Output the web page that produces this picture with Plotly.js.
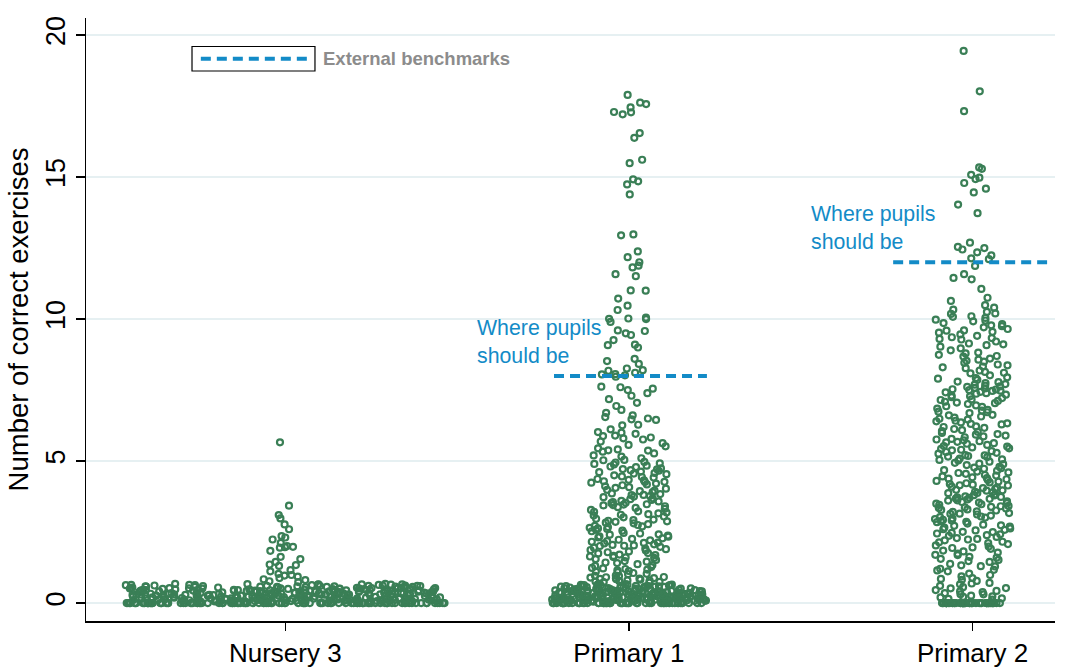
<!DOCTYPE html>
<html>
<head>
<meta charset="utf-8">
<script src="https://cdn.plot.ly/plotly-3.0.1.min.js"></script>
<style>
  html, body { margin: 0; padding: 0; background: #ffffff; }
  #chart { width: 1067px; height: 669px; }
</style>
</head>
<body>
<div id="chart"></div>
<script>
// ---- data -------------------------------------------------------------
const categories = ['Nursery 3', 'Primary 1', 'Primary 2'];

// Number of correct exercises per pupil, by grade
const nursery3 = [
  0,0,0,0,0,0,0,0,0,0, 0,0,0,0,0,0,0,0,0,0, 0,0,0,0,0,0,0,0,0,0,
  0,0,0,0,0,0,0,0,0,0, 0,0,0,0,0,0,0,0,0,0, 0,0,0,0,0,0,0,0,0,0,
  0,0,0,0,0,0,0,0,0,0, 0,0,0,0,0,0,0,0,0,0, 0,0,0,0,0,0,0,0,0,0,
  0,0,0,0,0,0,0,0,0,0, 0,0,0,0,0,0,0,0,0,0,
  0.05,0.11,0.08,0.19,0.14,0.23,0.07,0.31,0.12,0.26,
  0.09,0.17,0.36,0.04,0.21,0.13,0.42,0.28,0.06,0.16,
  0.33,0.1,0.24,0.47,0.15,0.08,0.38,0.2,0.12,0.29,
  0.52,0.05,0.18,0.35,0.09,0.25,0.44,0.14,0.3,0.11,
  0.57,0.22,0.07,0.39,0.17,0.27,0.13,0.49,0.06,0.34,
  0.2,0.61,0.1,0.26,0.41,0.15,0.32,0.08,0.46,0.19,
  0.23,0.54,0.12,0.37,0.05,0.28,0.16,0.43,0.09,0.65,
  0.21,0.31,0.14,0.5,0.07,0.24,0.4,0.18,0.59,0.11,
  0.27,0.35,0.13,0.45,0.06,0.22,0.56,0.17,0.3,0.1,
  0.38,0.25,0.68,0.15,0.48,0.08,0.33,0.2,0.42,0.12,
  0.29,0.63,0.16,0.36,0.05,0.26,0.51,0.19,0.39,0.09,
  0.23,0.44,0.14,0.58,0.32,0.07,0.27,0.47,0.18,0.11,
  0.35,0.21,0.62,0.13,0.4,0.28,0.06,0.53,0.24,0.16,
  0.31,0.1,0.45,0.19,0.37,0.66,0.12,0.25,0.5,0.08,
  0.22,0.34,0.15,0.55,0.29,0.04,0.41,0.18,0.6,0.27,
  0.13,0.36,0.2,0.48,0.09,0.3,0.64,0.17,0.43,0.24,
  0.11,0.33,0.57,0.14,0.26,0.39,0.07,0.52,0.21,0.46,
  0.31,0.44,0.52,0.36,0.61,0.48,0.27,0.57,0.4,0.66,
  0.34,0.5,0.43,0.59,0.29,0.55,0.38,0.63,0.46,0.32,
  0.53,0.41,0.67,0.35,0.58,0.47,0.3,0.62,0.39,0.54,
  0.45,0.28,0.6,0.37,0.51,0.42,0.64,0.33,0.56,0.49,
  0.26,0.47,0.61,0.35,0.53,0.4,0.65,0.3,0.58,0.44,
  0.37,0.55,0.29,0.63,0.42,0.5,0.33,0.59,0.46,0.68,
  0.38,0.52,0.31,0.6,0.45,0.27,0.57,0.41,0.64,0.36,
  0.49,0.34,0.62,0.43,0.54,0.3,0.66,0.39,0.51,0.47,
  0.74,0.77,0.81,0.84,0.88,0.93,0.97,0.99,1.03,1.12,
  1.16,1.31,1.34,1.36,1.45,1.55,1.63,1.84,1.95,1.97,
  1.98,2.01,2.12,2.24,2.31,2.36,2.6,2.77,2.98,3.1,3.43,5.66
];

const primary1 = [
  0,0,0,0,0,0,0,0,0,0, 0,0,0,0,0,0,0,0,0,0, 0,0,0,0,0,0,0,0,0,0,
  0,0,0,0,0,0,0,0,0,0, 0,0,0,0,0,0,0,0,0,0, 0,0,0,0,0,0,0,0,0,0,
  0.06,0.14,0.09,0.22,0.31,0.11,0.18,0.04,0.27,0.15,
  0.38,0.08,0.2,0.12,0.33,0.25,0.05,0.44,0.17,0.1,
  0.29,0.13,0.49,0.21,0.07,0.36,0.16,0.26,0.54,0.11,
  0.19,0.4,0.09,0.3,0.14,0.23,0.58,0.06,0.35,0.18,
  0.12,0.46,0.24,0.08,0.32,0.17,0.61,0.13,0.28,0.2,
  0.42,0.1,0.37,0.15,0.52,0.22,0.07,0.3,0.19,0.65,
  0.26,0.12,0.39,0.16,0.47,0.09,0.34,0.21,0.56,0.14,
  0.27,0.05,0.43,0.18,0.31,0.11,0.5,0.24,0.63,0.16,
  0.36,0.08,0.22,0.45,0.13,0.29,0.59,0.19,0.41,0.1,
  0.25,0.53,0.15,0.33,0.67,0.12,0.38,0.2,0.48,0.07,
  0.28,0.17,0.57,0.23,0.35,0.14,0.44,0.09,0.62,0.3,
  0.18,0.4,0.26,0.51,0.11,0.34,0.21,0.68,0.16,0.46,
  0.13,0.32,0.55,0.24,0.42,0.06,0.37,0.6,0.2,0.27,
  0.33,0.47,0.58,0.25,0.41,0.63,0.36,0.52,0.29,0.45,
  0.6,0.38,0.22,0.55,0.43,0.31,0.66,0.49,0.27,0.57,
  0.4,0.35,0.61,0.24,0.5,0.44,0.3,0.64,0.37,0.53,
  0.46,0.28,0.59,0.42,0.34,0.62,0.48,0.21,0.56,0.39,
  0.32,0.51,0.65,0.26,0.45,0.6,0.37,0.54,0.43,0.3,
  0.72,0.75,0.79,0.8,0.84,0.86,0.87,0.91,0.95,0.97,0.74,0.78,0.85,0.9,0.96,
  0.76,0.83,0.92,0.88,
  1.03,1.09,1.11,1.15,1.2,1.24,1.27,1.34,1.37,1.41,1.46,1.48,1.55,1.59,1.62,
  1.66,1.71,1.75,1.79,1.82,1.87,1.9,1.95,1.98,1.06,1.22,1.43,1.61,1.76,1.92,
  1.13,1.31,1.52,1.69,1.85,1.02,1.18,1.64,
  2.01,2.03,2.05,2.1,2.13,2.16,2.21,2.23,2.28,2.31,2.35,2.41,2.45,2.47,2.53,2.58,
  2.61,2.65,2.7,2.75,2.78,2.83,2.86,2.9,2.94,2.97,2.07,2.18,2.42,2.63,2.88,2.92,
  2.12,2.26,2.38,2.55,2.68,2.81,2.02,2.34,2.72,
  3.02,3.05,3.11,3.16,3.19,3.23,3.28,3.32,3.35,3.41,3.44,3.47,3.53,3.56,
  3.6,3.66,3.69,3.73,3.77,3.81,3.86,3.91,3.94,3.99,3.45,3.48,3.8,3.84,
  3.08,3.21,3.38,3.52,3.63,3.75,3.96,3.13,3.58,
  4.03,4.08,4.11,4.15,4.21,4.26,4.29,4.34,4.37,4.42,4.46,4.5,4.54,
  4.58,4.63,4.66,4.71,4.74,4.79,4.84,4.88,4.92,4.97,4.32,4.72,4.68,
  4.06,4.18,4.27,4.44,4.56,4.61,4.81,4.95,4.24,4.9,
  5.03,5.04,5.1,5.16,5.2,5.27,5.33,5.37,5.41,5.45,5.52,5.57,5.63,5.69,5.76,
  5.8,5.83,5.88,5.9,5.96,5.38,
  6.0,6.02,6.12,6.26,6.28,6.45,6.47,6.5,6.55,6.61,6.7,6.8,6.94,
  7.05,7.18,7.3,7.39,7.5,7.55,7.6,7.62,7.97,
  8.02,8.05,8.06,8.11,8.18,8.2,8.26,8.42,8.52,8.6,9.0,9.08,9.1,9.26,9.44,
  9.5,9.58,9.6,9.9,10.0,10.01,10.02,10.05,10.32,10.47,10.72,11.0,11.01,
  11.51,11.58,11.82,11.88,12.0,12.18,12.38,12.95,12.98,14.39,14.74,14.85,
  14.92,15.49,15.61,16.38,16.55,17.21,17.28,17.29,17.45,17.57,17.62,17.89
];

const primary2 = [
  0,0,0,0,0,0,0,0,0,0, 0,0,0,0,0,0,0,0,0,0, 0,0,0,0,0,0,0,0,0,0,
  0,0,0,0,0,0,0,0,0,0, 0,0,0,0,0,0,0,0,0,0,
  0.12,0.17,0.2,0.24,0.26,0.31,0.35,0.39,0.43,0.46,0.52,0.56,0.61,0.66,
  0.71,0.78,0.82,0.88,0.94,0.99,0.22,0.41,0.53,0.69,0.85,0.31,0.15,
  1.04,1.12,1.17,1.21,1.29,1.33,1.38,1.45,1.52,1.56,1.63,1.69,1.74,1.78,
  1.85,1.91,1.94,1.99,1.3,1.7,1.15,1.48,1.82,1.6,1.96,
  2.03,2.08,2.11,2.16,2.21,2.26,2.29,2.33,2.39,2.42,2.47,2.51,2.56,2.6,
  2.63,2.69,2.72,2.76,2.8,2.85,2.88,2.91,2.96,2.98,2.5,2.86,
  2.14,2.37,2.58,2.74,2.93,2.24,2.45,2.66,
  3.01,3.05,3.08,3.12,3.15,3.17,3.21,3.23,3.28,3.3,3.33,3.37,3.39,3.42,
  3.46,3.48,3.52,3.56,3.58,3.61,3.65,3.67,3.71,3.74,3.76,3.8,3.83,3.87,
  3.9,3.92,3.96,3.99,3.35,3.5,3.62,3.72,
  3.03,3.14,3.26,3.41,3.54,3.68,3.79,3.88,3.97,
  4.02,4.07,4.1,4.14,4.17,4.22,4.25,4.3,4.33,4.38,4.43,4.46,4.51,4.55,
  4.6,4.63,4.68,4.73,4.77,4.8,4.86,4.91,4.94,4.98,4.15,4.4,
  4.05,4.19,4.28,4.36,4.49,4.58,4.66,4.75,4.89,
  5.02,5.06,5.09,5.14,5.18,5.21,5.26,5.32,5.35,5.4,5.43,5.48,5.53,5.57,
  5.61,5.66,5.7,5.73,5.78,5.84,5.87,5.9,5.95,5.99,5.2,5.45,5.68,
  5.04,5.16,5.29,5.38,5.51,5.63,5.76,5.93,
  6.03,6.09,6.13,6.17,6.22,6.29,6.33,6.36,6.42,6.49,6.53,6.57,6.63,6.69,
  6.74,6.78,6.85,6.91,6.96,6.4,6.72,6.06,6.2,6.31,6.46,6.61,6.8,6.93,
  7.01,7.06,7.09,7.12,7.17,7.22,7.25,7.31,7.34,7.37,7.42,7.47,7.5,7.53,
  7.58,7.61,7.66,7.71,7.75,7.8,7.86,7.9,7.95,7.48,7.52,7.56,
  7.04,7.15,7.28,7.39,7.44,7.63,7.69,7.78,7.92,
  8.02,8.09,8.14,8.19,8.27,8.33,8.4,8.46,8.53,8.61,8.68,8.74,8.82,8.9,
  8.97,8.3,8.5,8.7,8.11,8.37,8.57,8.79,
  9.03,9.08,9.14,9.21,9.28,9.33,9.41,9.46,9.52,9.59,9.65,9.71,9.78,9.86,
  9.92,9.98,9.3,9.6,9.75,9.11,9.36,9.55,9.82,9.95,
  10.04,10.1,10.18,10.25,10.33,10.4,10.49,10.64,10.75,10.2,10.08,
  11.06,11.4,11.45,11.58,11.87,12.11,12.14,12.24,12.35,12.45,12.5,12.54,12.69,
  13.73,14.03,14.46,14.59,14.79,14.93,14.98,15.08,15.29,15.34,
  17.32,18.02,19.44
];

const seriesValues = [nursery3, primary1, primary2];

// Benchmark for where pupils should be (none for Nursery 3)
const benchmarks = [null, 8, 12];
const benchmarkLabel = 'Where pupils<br>should be';
const legendLabel = 'External benchmarks';
const yTickValues = [0, 5, 10, 15, 20];
const yAxisTitle = 'Number of correct exercises';

// ---- styling ----------------------------------------------------------
const GREEN = '#3a7f56';
const BLUE = '#138bc7';
const FONT = 'Liberation Sans, Arial, Helvetica, sans-serif';

// Each strip is split into a wide base band (values up to floorMax)
// and a narrower column above it; widths are in category units.
const stripStyle = [
  { floorMax: 0.7,  floorWidth: 0.93, upperWidth: 0.15 },
  { floorMax: 0.7,  floorWidth: 0.45, upperWidth: 0.23 },
  { floorMax: 0.05, floorWidth: 0.18, upperWidth: 0.22 }
];

// Benchmark segment extent and label offset, in category units
const benchStyle = [
  null,
  { left: -0.218, right: 0.227, labelX: -0.447 },
  { left: -0.231, right: 0.217, labelX: -0.476 }
];

function stripTrace(category, values, width) {
  return {
    type: 'box',
    x0: category,
    y: values,
    width: width,
    boxpoints: 'all',
    jitter: 1,
    pointpos: 0,
    fillcolor: 'rgba(0,0,0,0)',
    line: { width: 0, color: 'rgba(0,0,0,0)' },
    whiskerwidth: 0,
    hoveron: 'points',
    marker: {
      symbol: 'circle-open',
      size: 6,
      color: GREEN,
      line: { width: 2.2 }
    },
    showlegend: false,
    name: category
  };
}

const traces = [];
categories.forEach((cat, i) => {
  const s = stripStyle[i];
  const vals = seriesValues[i];
  traces.push(stripTrace(cat, vals.filter(v => v <= s.floorMax), s.floorWidth));
  traces.push(stripTrace(cat, vals.filter(v => v > s.floorMax), s.upperWidth));
});

const shapes = [];
const annotations = [];
benchmarks.forEach((b, i) => {
  if (b === null) return;
  const st = benchStyle[i];
  shapes.push({
    type: 'line', xref: 'x', yref: 'y',
    x0: i + st.left, x1: i + st.right, y0: b, y1: b,
    line: { color: BLUE, width: 4, dash: '10px,6px' }
  });
  annotations.push({
    xref: 'x', yref: 'y', x: i + st.labelX, y: b,
    xanchor: 'left', yanchor: 'bottom', align: 'left',
    yshift: 6, showarrow: false,
    text: benchmarkLabel,
    font: { family: FONT, size: 21.3, color: BLUE }
  });
});

// Legend key: framed dashed sample plus label
shapes.push({
  type: 'rect', xref: 'paper', yref: 'paper',
  x0: 0.1094, x1: 0.2363, y0: 0.9121, y1: 0.9527,
  line: { color: '#000000', width: 1.2 }, fillcolor: 'rgba(0,0,0,0)'
});
shapes.push({
  type: 'line', xref: 'paper', yref: 'paper',
  x0: 0.1185, x1: 0.2286, y0: 0.9324, y1: 0.9324,
  line: { color: BLUE, width: 4, dash: '10px,6px' }
});
annotations.push({
  xref: 'paper', yref: 'paper', x: 0.2425, y: 0.9324,
  xanchor: 'left', yanchor: 'middle', showarrow: false,
  text: '<b>' + legendLabel + '</b>',
  font: { family: FONT, size: 18.5, color: '#8c8c8c' }
});

const layout = {
  width: 1067,
  height: 669,
  margin: { l: 86, r: 12, t: 18, b: 48 },
  paper_bgcolor: '#ffffff',
  plot_bgcolor: '#ffffff',
  showlegend: false,
  boxmode: 'overlay',
  font: { family: FONT, color: '#000000' },
  xaxis: {
    type: 'category',
    categoryorder: 'array',
    categoryarray: categories,
    range: [-0.58, 2.24],
    showgrid: false,
    zeroline: false,
    showline: true,
    linecolor: '#000000',
    linewidth: 1.5,
    ticks: 'outside',
    ticklen: 8,
    tickwidth: 1.5,
    tickcolor: '#000000',
    tickfont: { family: FONT, size: 26, color: '#000000' }
  },
  yaxis: {
    range: [-0.63, 20.6],
    tickmode: 'array',
    tickvals: yTickValues,
    ticktext: yTickValues.map(String),
    tickangle: -90,
    ticks: 'outside',
    ticklen: 9,
    tickwidth: 1.5,
    tickcolor: '#000000',
    showline: true,
    linecolor: '#000000',
    linewidth: 1.5,
    showgrid: true,
    gridcolor: '#e6f0f2',
    gridwidth: 2,
    zeroline: false,
    tickfont: { family: FONT, size: 27, color: '#000000' },
    title: {
      text: yAxisTitle,
      standoff: 4,
      font: { family: FONT, size: 27.5, color: '#000000' }
    }
  },
  shapes: shapes,
  annotations: annotations
};

Plotly.newPlot('chart', traces, layout, { displayModeBar: false, staticPlot: true });
</script>
</body>
</html>
